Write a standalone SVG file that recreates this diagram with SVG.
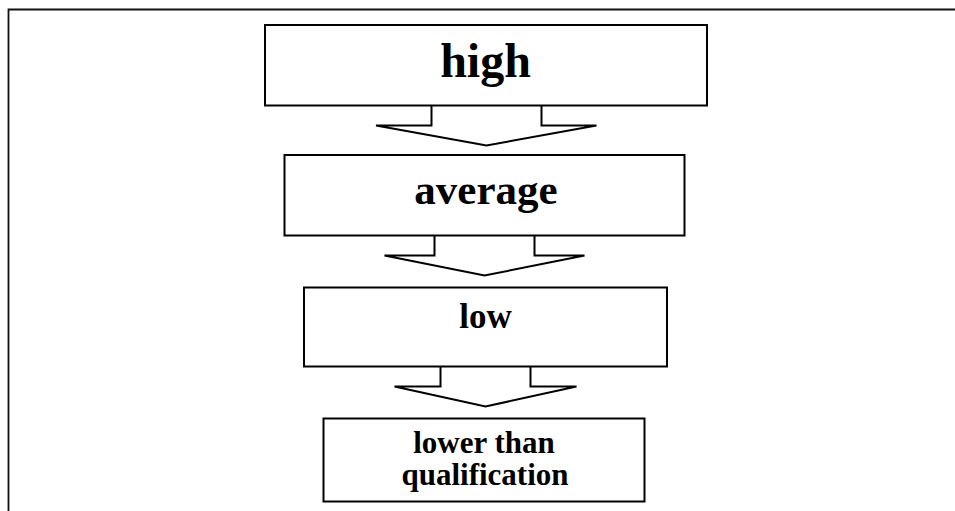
<svg xmlns="http://www.w3.org/2000/svg" width="955" height="511" viewBox="0 0 955 511">
<style>
.shape{fill:#fff;stroke:#000;stroke-width:2;stroke-linejoin:miter}
.lbl{font-family:"Liberation Serif","Times New Roman",serif;font-weight:bold;fill:#000;text-anchor:middle}
</style>
<rect width="955" height="511" fill="#fff"/>
<path d="M8.5,511 V9.5 H955" fill="none" stroke="#111" stroke-width="1.8"/>
<g id="connectors">
<path class="shape" d="M431.5,105.5 V125.5 H376 L486.5,145.5 L596.5,125.5 H541.5 V105.5"/>
<path class="shape" d="M434.5,235.5 V255.5 H384.5 L484.5,275.5 L584.5,255.5 H534.5 V235.5"/>
<path class="shape" d="M440.5,366.5 V386.5 H394.5 L485.5,406.5 L576.5,386.5 H530.5 V366.5"/>
</g>
<g id="high">
<rect class="shape" x="265" y="25" width="442" height="80.5"/>
<text class="lbl" x="485.5" y="76.5" font-size="48">high</text>
</g>
<g id="average">
<rect class="shape" x="284.5" y="155" width="400" height="80.5"/>
<text class="lbl" x="486" y="204" font-size="43">average</text>
</g>
<g id="low">
<rect class="shape" x="304" y="287.5" width="363" height="79"/>
<text class="lbl" x="485.5" y="327.5" font-size="35">low</text>
</g>
<g id="lower">
<rect class="shape" x="323.5" y="418.5" width="321" height="83"/>
<text class="lbl" x="484" y="452.5" font-size="31">lower than</text>
<text class="lbl" x="485" y="485" font-size="31">qualification</text>
</g>
</svg>
